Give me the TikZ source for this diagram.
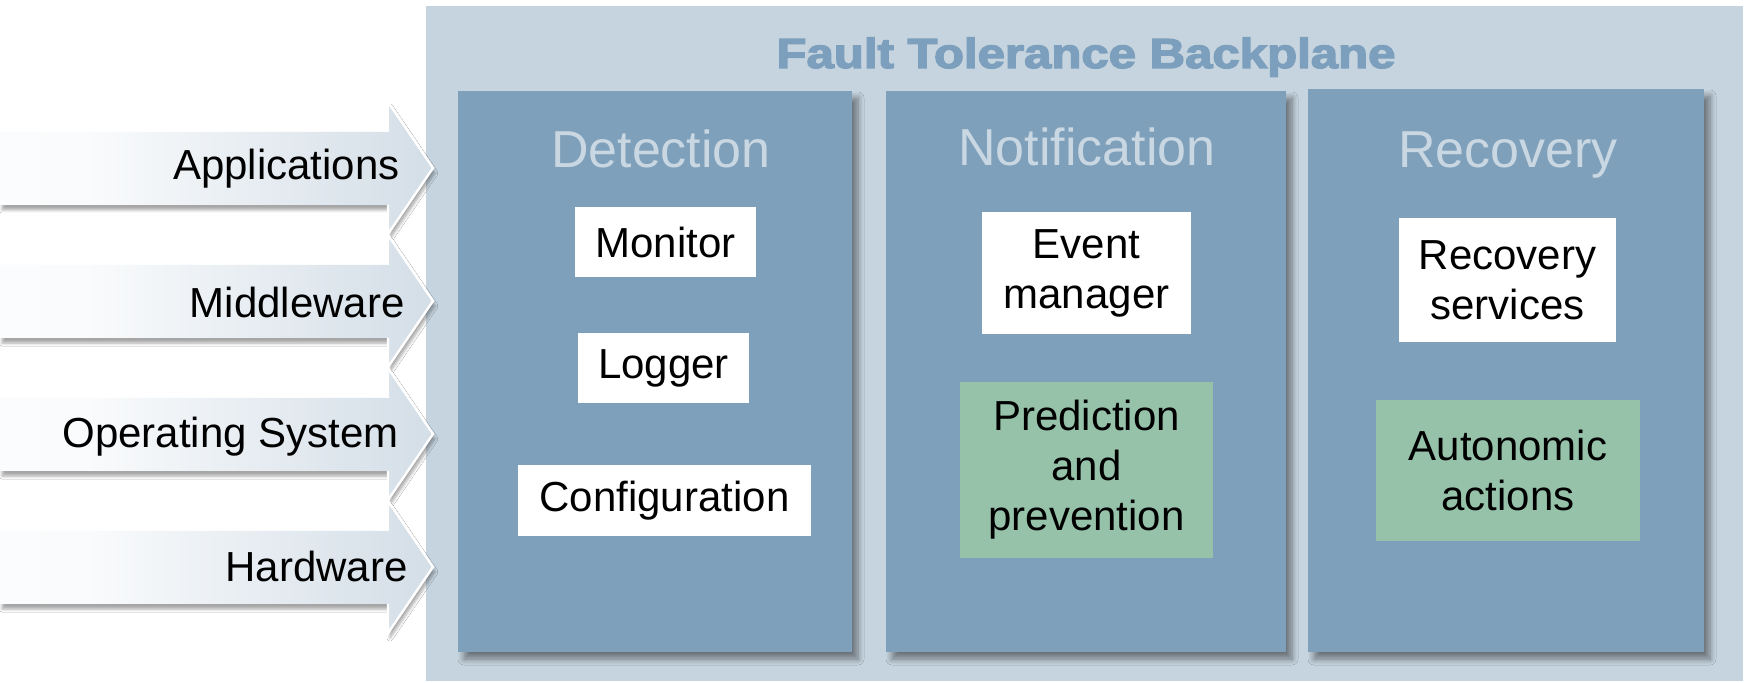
\documentclass[tikz,border=0pt]{standalone}
\usepackage{fontspec}
\setmainfont{Liberation Sans}
\newfontfamily\titlefont[FakeBold=3]{Liberation Sans Bold}
\usetikzlibrary{shadows.blur,fit}
\definecolor{panelc}{HTML}{C6D4DF}
\definecolor{innerc}{HTML}{7FA0BA}
\definecolor{headc}{HTML}{C9D7E2}
\definecolor{titlec}{HTML}{7B9FBC}
\definecolor{greenc}{HTML}{96C2AA}
\definecolor{arrowc}{HTML}{BCCCDA}
\pgfdeclarehorizontalshading{arrowshade}{100bp}{color(0bp)=(white); color(35bp)=(white!92!arrowc); color(100bp)=(arrowc)}
\tikzset{
  panelbox/.style={fill=panelc, inner sep=0pt},
  colbox/.style={fill=innerc, inner sep=0pt, blur shadow={shadow xshift=3pt, shadow yshift=-3.5pt, shadow blur steps=8, shadow opacity=45, shadow blur radius=3pt}},
  itembox/.style={inner sep=0pt, align=center, font=\fontsize{21}{25}\selectfont},
  whitebox/.style={itembox, fill=white},
  greenbox/.style={itembox, fill=greenc},
  headtxt/.style={text=headc, inner sep=0pt, font=\fontsize{26}{30}\selectfont},
  titletxt/.style={text=titlec, inner sep=0pt, font=\titlefont\fontsize{21}{25}\selectfont},
  lbl/.style={inner sep=0pt, font=\fontsize{21}{25}\selectfont},
  arrowbody/.style={shading=arrowshade, blur shadow={shadow xshift=1pt, shadow yshift=-2.5pt, shadow blur steps=5, shadow opacity=35, shadow blur radius=1.5pt}},
  arrowedge/.style={draw=white, line width=1.2pt, line join=miter}
}
\begin{document}
\begin{tikzpicture}[x=0.5pt,y=-0.5pt]
\useasboundingbox (0,0) rectangle (1746,683);
\fill[white] (0,0) rectangle (1746,683);
% backplane panel
\node[panelbox, fit={(426,6) (1743,681)}] (panel) {};
\node[titletxt, anchor=base] (title) at (1086,68) {\scalebox{1.17}[1]{Fault Tolerance Backplane}};
% column boxes
\node[colbox, fit={(458,91) (852,652)}] (det) {};
\node[colbox, fit={(886,91) (1286,652)}] (notif) {};
\node[colbox, fit={(1308,89) (1704,652)}] (recov) {};
\node[headtxt, anchor=base] (dethead) at (661,168) {Detection};
\node[headtxt, anchor=base] (notifhead) at (1087,166) {Notification};
\node[headtxt, anchor=base] (recovhead) at (1508,168) {Recovery};
% detection items
\node[whitebox, minimum width=90.5pt, minimum height=35pt] (monitor) at (665.5,242) {Monitor};
\node[whitebox, minimum width=85.5pt, minimum height=35pt] (logger) at (663.5,368) {Logger};
\node[whitebox, minimum width=146.5pt, minimum height=35.5pt] (config) at (664.5,500.5) {Configuration};
% notification items
\node[whitebox, minimum width=104.5pt, minimum height=61pt] (event) at (1086.5,273) {Event\\manager};
\node[greenbox, minimum width=126.5pt, minimum height=88pt] (predict) at (1086.5,470) {Prediction\\and\\prevention};
% recovery items
\node[whitebox, minimum width=108.5pt, minimum height=62pt] (rserv) at (1507.5,280) {Recovery\\services};
\node[greenbox, minimum width=132pt, minimum height=70.5pt] (auto) at (1508,470.5) {Autonomic\\actions};
% layer arrows
\foreach \c in {168,301,434,567}{
  \path[arrowbody] (0,\c-36) -- (388,\c-36) -- (388,\c-66) -- (433,\c) -- (388,\c+66) -- (388,\c+37) -- (0,\c+37) -- cycle;
  \draw[arrowedge] (388,\c-36) -- (388,\c-66) -- (433,\c) -- (388,\c+66) -- (388,\c+37);
}
\node[lbl, anchor=base east] (appl) at (400,180) {Applications};
\node[lbl, anchor=base east] (midw) at (405,318) {Middleware};
\node[lbl, anchor=base east] (os) at (399,448) {Operating System};
\node[lbl, anchor=base east] (hw) at (408,582) {Hardware};
\end{tikzpicture}
\end{document}
